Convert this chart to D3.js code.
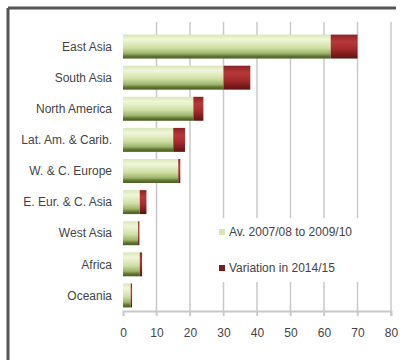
<!DOCTYPE html>
<html>
<head>
<meta charset="utf-8">
<script src="https://cdn.jsdelivr.net/npm/d3@7"></script>
<style>
  body { margin: 0; background: #fff; }
  svg { display: block; font-family: "Liberation Sans Narrow", "Liberation Sans", Arial, sans-serif; }
</style>
</head>
<body>
<div id="chart"></div>
<script>
const categories = ["East Asia", "South Asia", "North America", "Lat. Am. & Carib.", "W. & C. Europe",
  "E. Eur. & C. Asia", "West Asia", "Africa", "Oceania"]
const average = [62, 30, 21, 15, 16.5, 5, 4.5, 5, 2.3]
const variation = [8, 8, 3, 3.5, 0.6, 2, 0.4, 0.7, 0.4]
const xTicks = [0, 10, 20, 30, 40, 50, 60, 70, 80]
const seriesNames = ["Av. 2007/08 to 2009/10", "Variation in 2014/15"]

const width = 400, height = 360
const margin = { top: 31, right: 9, bottom: 49, left: 123 }

const x = d3.scaleLinear().domain([0, 80]).range([margin.left, width - margin.right])
const y = d3.scaleBand().domain(categories).range([margin.top, height - margin.bottom]).paddingInner(0.23).paddingOuter(0.115)

const svg = d3.select('#chart').append('svg')
    .attr('width', width)
    .attr('height', height)

// gradients for the bars
const defs = svg.append('defs')
const green = defs.append('linearGradient').attr('id', 'g-green').attr('x1', 0).attr('x2', 0).attr('y1', 0).attr('y2', 1)
;[[0, '#d9e6b4'], [0.2, '#f0f6da'], [0.55, '#cfe0a4'], [0.78, '#9fb66e'], [0.9, '#5f7632'], [1, '#4a5e24']]
    .forEach(([o, c]) => green.append('stop').attr('offset', o).attr('stop-color', c))
const red = defs.append('linearGradient').attr('id', 'g-red').attr('x1', 0).attr('x2', 0).attr('y1', 0).attr('y2', 1)
;[[0, '#8c2224'], [0.3, '#b8383a'], [0.6, '#a42a2c'], [1, '#5e1212']]
    .forEach(([o, c]) => red.append('stop').attr('offset', o).attr('stop-color', c))

// frame
svg.append('line').attr('x1', 8).attr('x2', 8).attr('y1', 8).attr('y2', height).attr('stroke', '#555').attr('stroke-width', 3)
svg.append('line').attr('x1', 8).attr('x2', width - 4).attr('y1', 8).attr('y2', 8).attr('stroke', '#555').attr('stroke-width', 3)

// gridlines
svg.append('g')
    .selectAll('line')
    .data(xTicks.slice(1))
    .join('line')
    .attr('x1', d => x(d)).attr('x2', d => x(d))
    .attr('y1', 22).attr('y2', height - margin.bottom + 5)
    .attr('stroke', '#c8c8c8')
    .attr('stroke-width', 1.5)

// x axis
const xAxis = svg.append('g')
    .attr('transform', `translate(0,${height - margin.bottom})`)
    .call(d3.axisBottom(x).tickValues(xTicks).tickSize(5).tickPadding(12))
xAxis.select('.domain').attr('stroke', '#c8c8c8').attr('stroke-width', 2)
xAxis.selectAll('.tick line').attr('stroke', '#c8c8c8')
xAxis.selectAll('text').attr('font-size', 12).attr('fill', '#444').attr('font-family', 'inherit')

// category labels
svg.append('g')
    .selectAll('text')
    .data(categories)
    .join('text')
    .attr('x', 112)
    .attr('y', d => y(d) + y.bandwidth() / 2)
    .attr('dy', '0.35em')
    .attr('text-anchor', 'end')
    .attr('font-size', 12)
    .attr('fill', '#444')
    .text(d => d)

// bars
const bars = svg.append('g')
bars.selectAll('rect.avg')
    .data(categories)
    .join('rect')
    .attr('class', 'avg')
    .attr('x', x(0))
    .attr('y', d => y(d))
    .attr('width', (d, i) => x(average[i]) - x(0))
    .attr('height', y.bandwidth())
    .attr('fill', 'url(#g-green)')
bars.selectAll('rect.var')
    .data(categories)
    .join('rect')
    .attr('class', 'var')
    .attr('x', (d, i) => x(average[i]))
    .attr('y', d => y(d))
    .attr('width', (d, i) => x(average[i] + variation[i]) - x(average[i]))
    .attr('height', y.bandwidth())
    .attr('fill', 'url(#g-red)')

// legend
const legend = svg.append('g')
legend.append('rect')
    .attr('x', 214).attr('y', 218).attr('width', 150).attr('height', 64)
    .attr('fill', '#fff')
const items = legend.selectAll('g')
    .data(seriesNames)
    .join('g')
    .attr('transform', (d, i) => `translate(222,${232 + i * 36})`)
items.append('rect')
    .attr('x', -3).attr('y', -3).attr('width', 6).attr('height', 6)
    .attr('fill', (d, i) => i === 0 ? '#d6e6ac' : '#7a1a1c')
items.append('text')
    .attr('x', 7)
    .attr('dy', '0.35em')
    .attr('font-size', 12)
    .attr('fill', '#444')
    .text(d => d)
</script>
</body>
</html>
